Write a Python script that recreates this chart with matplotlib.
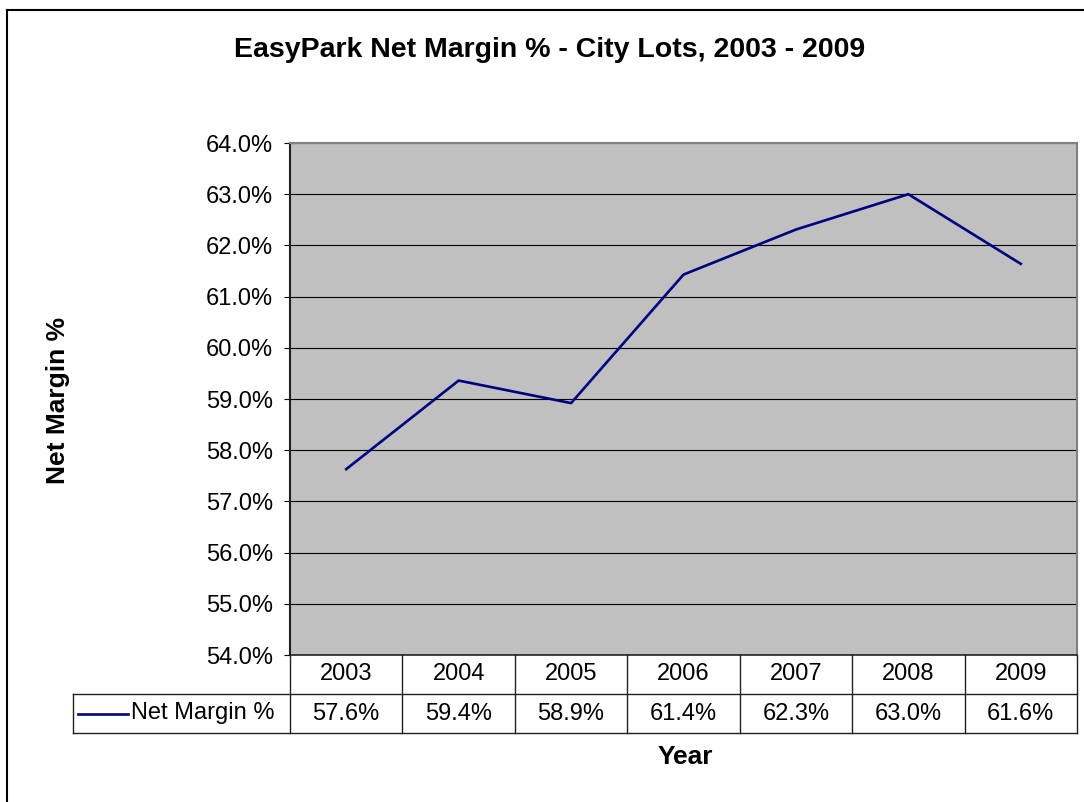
import matplotlib
matplotlib.use('Agg')
import matplotlib.pyplot as plt
from matplotlib.lines import Line2D
from matplotlib.ticker import FuncFormatter, MultipleLocator

plt.rcParams['font.family'] = ['Liberation Sans', 'DejaVu Sans']

years = ['2003', '2004', '2005', '2006', '2007', '2008', '2009']
net_margin = [57.63, 59.36, 58.92, 61.43, 62.31, 63.00, 61.64]
series_name = 'Net Margin %'

W, H = 1084, 802
fig = plt.figure(figsize=(W / 100, H / 100), dpi=100)

# plot area in pixels: x 290..1077, y 143..655
px_l, px_r, px_t, px_b = 290, 1077, 143, 655
ax = fig.add_axes([px_l / W, 1 - px_b / H, (px_r - px_l) / W, (px_b - px_t) / H])
ax.set_facecolor('#c0c0c0')

x = list(range(len(years)))
ax.plot(x, net_margin, color='#000080', lw=1.9, zorder=3)

ax.set_xlim(-0.5, len(years) - 0.5)
ax.set_ylim(54, 64)
ax.yaxis.set_major_locator(MultipleLocator(1))
ax.yaxis.set_major_formatter(FuncFormatter(lambda v, p: f'{v:.1f}%'))
ax.grid(axis='y', color='black', lw=0.8)
ax.set_axisbelow(True)
ax.set_xticks([])
ax.tick_params(axis='y', length=4, width=0.8, pad=8, labelsize=17)

for s in ['top', 'right']:
    ax.spines[s].set_color('#808080')
    ax.spines[s].set_linewidth(1.5)
ax.spines['left'].set_color('#202020')
ax.spines['left'].set_linewidth(1.5)
ax.spines['bottom'].set_color('#202020')
ax.spines['bottom'].set_linewidth(1.2)

# data table below the plot area (axes coordinates)
def ay(py):
    return (px_b - py) / (px_b - px_t)

def axx(px):
    return (px - px_l) / (px_r - px_l)

row1, row2 = ay(694), ay(733)
leg_left = axx(73)
tc = dict(color='#202020', lw=1.0, clip_on=False, transform=ax.transAxes)
ax.add_line(Line2D([leg_left, 1], [row1, row1], **tc))
ax.add_line(Line2D([leg_left, 1], [row2, row2], **tc))
ax.add_line(Line2D([leg_left, leg_left], [row1, row2], **tc))
ax.add_line(Line2D([0, 0], [0, row2], **tc))
ax.add_line(Line2D([1, 1], [0, row2], **tc))
blend = ax.get_xaxis_transform()
for i in range(1, len(years)):
    ax.add_line(Line2D([i - 0.5, i - 0.5], [0, row2], color='#202020', lw=1.0,
                       clip_on=False, transform=blend))
for i, (yr, v) in enumerate(zip(years, net_margin)):
    ax.text(i, (0 + row1) / 2, yr, transform=blend, ha='center', va='center', fontsize=17)
    ax.text(i, (row1 + row2) / 2, f'{v:.1f}%', transform=blend, ha='center', va='center', fontsize=17)

# legend key inside the table
ax.add_line(Line2D([axx(78), axx(128)], [(row1 + row2) / 2] * 2, color='#000080', lw=1.9,
                   clip_on=False, transform=ax.transAxes))
ax.text(axx(131), (row1 + row2) / 2, series_name, transform=ax.transAxes,
        ha='left', va='center', fontsize=17)

fig.text(550 / W, 1 - 50 / H, 'EasyPark Net Margin % - City Lots, 2003 - 2009',
         ha='center', va='center', fontsize=20.5, fontweight='bold')
fig.text(58 / W, 1 - 400 / H, 'Net Margin %', rotation=90, ha='center', va='center',
         fontsize=19, fontweight='bold')
fig.text(685 / W, 1 - 757 / H, 'Year', ha='center', va='center', fontsize=19, fontweight='bold')

# chart border (runs off the right and bottom edges)
fig.add_artist(Line2D([7 / W, 7 / W], [0, 1 - 10 / H], color='black', lw=1.5,
                      transform=fig.transFigure))
fig.add_artist(Line2D([7 / W, 1], [1 - 10 / H, 1 - 10 / H], color='black', lw=1.5,
                      transform=fig.transFigure))

fig.savefig('out.png', dpi=100)
